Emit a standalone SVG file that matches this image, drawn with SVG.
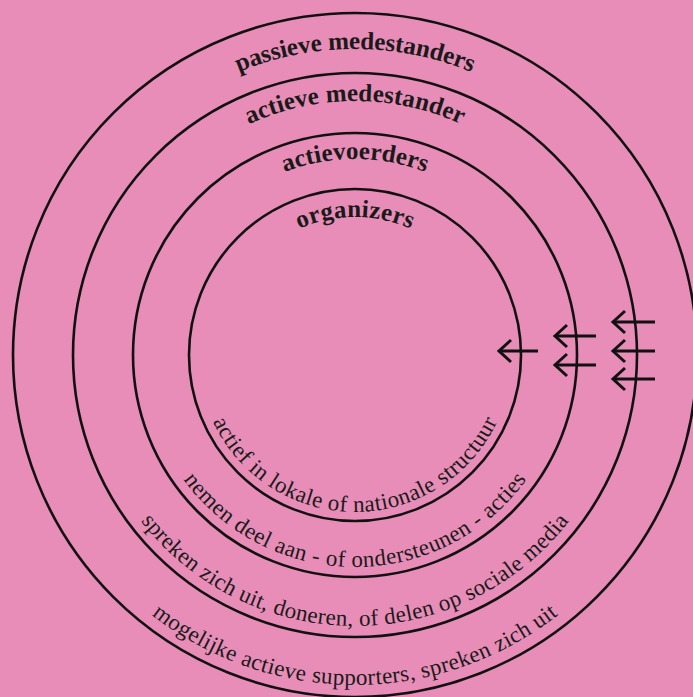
<svg xmlns="http://www.w3.org/2000/svg" xmlns:xlink="http://www.w3.org/1999/xlink" width="693" height="697" viewBox="0 0 693 697">
  <style>
    .ring { fill: none; stroke: #111; stroke-width: 2.6; }
    .top { font-family: "Liberation Serif", "Times New Roman", serif; font-weight: bold; font-size: 25px; fill: #1a1a1a; }
    .bot { font-family: "Liberation Serif", "Times New Roman", serif; font-size: 23px; fill: #1a1a1a; }
    .arrow { fill: none; stroke: #111; stroke-width: 3; marker-end: url(#chev); }
  </style>
  <defs>
    <marker id="chev" viewBox="-15 -14 18 28" refX="0" refY="0" markerWidth="18" markerHeight="28" markerUnits="userSpaceOnUse" orient="auto">
      <path d="M-12,-11 L0,0 L-12,11" fill="none" stroke="#111" stroke-width="3"/>
    </marker>
    <path id="t1" d="M49,355 A306,306 0 0 1 661,355"/>
    <path id="t2" d="M101,355 A254,254 0 0 1 609,355"/>
    <path id="t3" d="M159,355 A196,196 0 0 1 551,355"/>
    <path id="t4" d="M217,355 A138,138 0 0 1 493,355"/>
    <path id="b1" d="M25,355 A330,330 0 0 0 685,355"/>
    <path id="b2" d="M84,355 A271,271 0 0 0 626,355"/>
    <path id="b3" d="M143,355 A212,212 0 0 0 567,355"/>
    <path id="b4" d="M198,355 A157,157 0 0 0 512,355"/>
  </defs>
  <rect x="0" y="0" width="693" height="697" fill="#e78db7"/>

  <g id="passieve-medestanders">
    <circle class="ring" cx="355" cy="355" r="342"/>
    <text class="top"><textPath xlink:href="#t1" href="#t1" startOffset="50%" text-anchor="middle" textLength="239">passieve medestanders</textPath></text>
    <text class="bot"><textPath xlink:href="#b1" href="#b1" startOffset="50%" text-anchor="middle" textLength="438">mogelijke actieve supporters, spreken zich uit</textPath></text>
  </g>

  <g id="actieve-medestander">
    <circle class="ring" cx="355" cy="355" r="282"/>
    <text class="top"><textPath xlink:href="#t2" href="#t2" startOffset="50%" text-anchor="middle" textLength="219">actieve medestander</textPath></text>
    <text class="bot"><textPath xlink:href="#b2" href="#b2" startOffset="50%" text-anchor="middle" textLength="494">spreken zich uit, doneren, of delen op sociale media</textPath></text>
  </g>

  <g id="actievoerders">
    <circle class="ring" cx="355" cy="355" r="222"/>
    <text class="top"><textPath xlink:href="#t3" href="#t3" startOffset="50%" text-anchor="middle" textLength="144">actievoerders</textPath></text>
    <text class="bot"><textPath xlink:href="#b3" href="#b3" startOffset="50%" text-anchor="middle" textLength="400">nemen deel aan - of ondersteunen - acties</textPath></text>
  </g>

  <g id="organizers">
    <circle class="ring" cx="355" cy="355" r="166"/>
    <text class="top"><textPath xlink:href="#t4" href="#t4" startOffset="50%" text-anchor="middle" textLength="115">organizers</textPath></text>
    <text class="bot"><textPath xlink:href="#b4" href="#b4" startOffset="50%" text-anchor="middle" textLength="356">actief in lokale of nationale structuur</textPath></text>
  </g>

  <g id="connectors">
    <path class="arrow" d="M538,351 H499"/>
    <path class="arrow" d="M596,336 H555"/>
    <path class="arrow" d="M596,365 H555"/>
    <path class="arrow" d="M655,322 H613"/>
    <path class="arrow" d="M655,351 H613"/>
    <path class="arrow" d="M655,379 H613"/>
  </g>
</svg>
